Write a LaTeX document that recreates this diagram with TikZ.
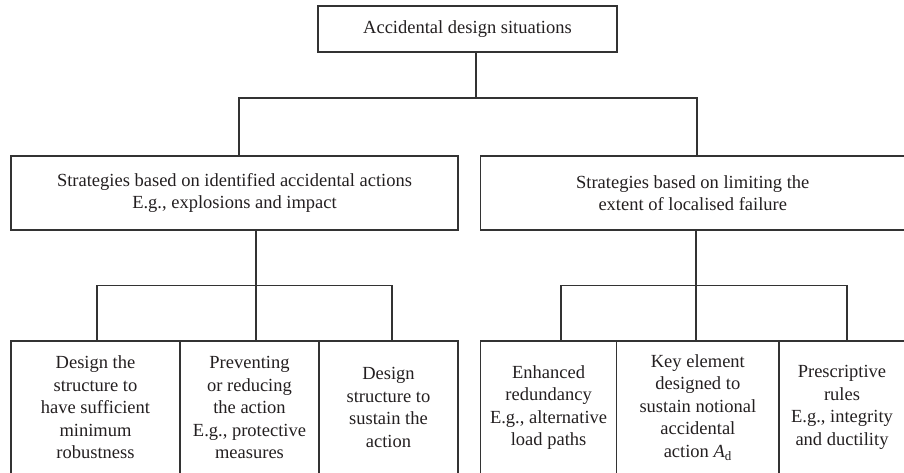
\documentclass[tikz,border=0pt]{standalone}
\usepackage{fontspec}
\setmainfont{Liberation Serif}
\begin{document}
\begin{tikzpicture}[x=1pt,y=-1pt,
  box/.style={draw=linec,line width=1.2pt,inner sep=0pt,align=center,text=txtc,
    font=\fontsize{18.5}{22.5}\selectfont},
  conn/.style={draw=linec,line width=1.2pt}]
\definecolor{linec}{HTML}{333333}
\definecolor{txtc}{HTML}{231F20}
\useasboundingbox (0,0) rectangle (904,472);
\clip (0,0) rectangle (904,472);
% top
\node[box,minimum width=299pt,minimum height=46pt] (top) at (467.5,29) {Accidental design situations};
% middle
\node[box,minimum width=447pt,minimum height=74pt] (ml) at (234.5,193)
  {Strategies based on identified accidental actions\\E.g., explosions and impact};
\node[box,minimum width=424.5pt,minimum height=74pt] (mr) at (692.75,193)
  {Strategies based on limiting the\\extent of localised failure};
% bottom left
\node[box,minimum width=169pt,minimum height=133pt] (b1) at (95.5,407.5)
  {Design the\\structure to\\have sufficient\\minimum\\robustness};
\node[box,minimum width=139pt,minimum height=133pt] (b2) at (249.5,407.5)
  {Preventing\\or reducing\\the action\\E.g., protective\\measures};
\node[box,minimum width=139pt,minimum height=133pt] (b3) at (388.5,407.5)
  {Design\\structure to\\sustain the\\action};
% bottom right
\node[box,minimum width=136.2pt,minimum height=133pt] (b4) at (548.6,407.5)
  {Enhanced\\redundancy\\E.g., alternative\\load paths};
\node[box,minimum width=162.3pt,minimum height=133pt] (b5) at (697.85,407.5)
  {Key element\\designed to\\sustain notional\\accidental\\action \textit{A}\textsubscript{d}};
\node[box,minimum width=126pt,minimum height=133pt] (b6) at (842,407.5)
  {Prescriptive\\rules\\E.g., integrity\\and ductility};
% junction coordinates
\coordinate (j0) at (476,98);
\coordinate (jl) at (256,285.7);
\coordinate (jr) at (696,285.7);
% top connectors
\draw[conn] (top.south -| j0) -- (j0);
\draw[conn] ([xshift=4.5pt]ml.north) |- (j0) -| ([xshift=4.25pt]mr.north);
% left group
\draw[conn] (ml.south -| jl) -- (jl);
\draw[conn] ([xshift=1.5pt]b1.north) |- (jl) -| ([xshift=3.5pt]b3.north);
\draw[conn] (jl) -- (b2.north -| jl);
% right group
\draw[conn] (mr.south -| jr) -- (jr);
\draw[conn] ([xshift=12.4pt]b4.north) |- (jr) -| ([xshift=5pt]b6.north);
\draw[conn] (jr) -- (b5.north -| jr);
\end{tikzpicture}
\end{document}
